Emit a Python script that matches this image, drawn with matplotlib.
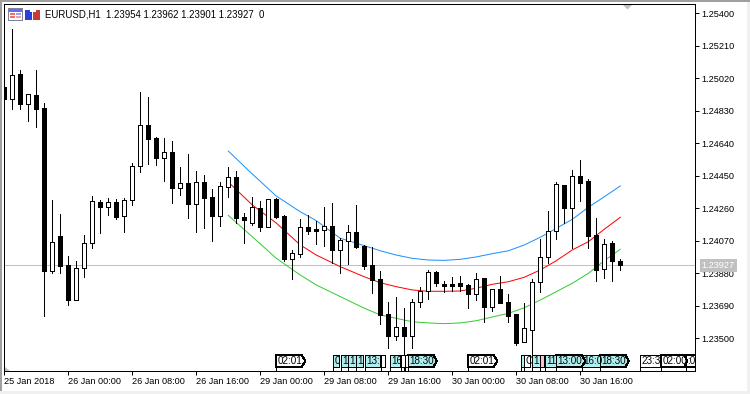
import numpy as np
import matplotlib
matplotlib.use("Agg")
import matplotlib.pyplot as plt
from matplotlib.patches import Polygon, Rectangle

W, H = 750, 394

# prices in points (1e-5)
opens = [124968, 124901, 125045, 124872, 124921, 124845, 123895, 124097, 123927, 123726,
         123913, 124056, 124297, 124266, 124295, 124213, 124307, 124506, 124745, 124669,
         124556, 124588, 124381, 124406, 124287, 124412, 124325, 124213, 124387, 124441,
         124211, 124176, 124260, 124153, 124315, 124215, 123966, 123995, 124149, 124139,
         124135, 124155, 124018, 124071, 124120, 124042, 123927, 123847, 123641, 123515,
         123565, 123515, 123714, 123775, 123886, 123818, 123818, 123822, 123810, 123761,
         123851, 123685, 123787, 123712, 123642, 123477, 123547, 123828, 123977, 124126,
         124395, 124264, 124447, 124420, 124104, 123904, 124057, 123954]
highs = [124970, 125308, 125069, 124927, 125069, 124874, 124309, 124227, 123981, 123952,
         124104, 124332, 124309, 124320, 124313, 124319, 124523, 124938, 124909, 124679,
         124669, 124652, 124500, 124576, 124477, 124453, 124371, 124416, 124500, 124477,
         124231, 124328, 124305, 124313, 124322, 124221, 124016, 124198, 124221, 124186,
         124268, 124291, 124088, 124163, 124280, 124046, 124036, 123894, 123712, 123742,
         123677, 123728, 123798, 123900, 123894, 123835, 123859, 123866, 123818, 123880,
         123851, 123787, 123864, 123759, 123642, 123705, 123845, 124081, 124244, 124412,
         124395, 124484, 124543, 124430, 124204, 124081, 124069, 123962]
lows = [124899, 124843, 124841, 124772, 124737, 123631, 123880, 123880, 123697, 123726,
        123860, 124030, 124118, 124223, 124199, 124123, 124280, 124474, 124517, 124515,
        124422, 124293, 124338, 124205, 124123, 124147, 124071, 124159, 124328, 124176,
        124059, 124163, 124129, 124153, 124205, 123952, 123849, 123976, 124110, 124052,
        124040, 123939, 123884, 123936, 124030, 123907, 123767, 123586, 123445, 123490,
        123315, 123445, 123685, 123730, 123808, 123773, 123775, 123775, 123679, 123724,
        123597, 123662, 123707, 123597, 123463, 123477, 123303, 123771, 123942, 124082,
        124173, 124028, 124303, 124030, 123835, 123855, 123835, 123901]
closes = [124901, 125041, 124872, 124927, 124843, 123895, 124061, 123925, 123726, 123909,
          124056, 124301, 124266, 124295, 124211, 124307, 124506, 124745, 124667, 124556,
          124588, 124381, 124406, 124287, 124412, 124322, 124213, 124389, 124441, 124205,
          124192, 124266, 124153, 124313, 124211, 123964, 123997, 124149, 124129, 124129,
          124155, 124018, 124073, 124120, 124034, 123925, 123841, 123638, 123515, 123565,
          123515, 123714, 123775, 123886, 123825, 123808, 123808, 123808, 123761, 123849,
          123685, 123787, 123707, 123632, 123475, 123559, 123828, 123977, 124126, 124402,
          124264, 124447, 124410, 124098, 123901, 124050, 123954, 123927]

band_bars = [28, 31, 34, 37, 39, 42, 45, 47, 49, 51, 53, 55, 57, 59, 61, 63, 65, 67, 69, 71, 73, 75, 77]
band_upper = [124595, 124461, 124332, 124240, 124188, 124085, 124042, 124012, 123987, 123968, 123958, 123956,
              123962, 123976, 123995, 124012, 124046, 124091, 124143, 124196, 124266, 124328, 124391]
band_mid = [124414, 124280, 124174, 124046, 123987, 123919, 123860, 123825, 123802, 123783, 123775, 123775,
            123777, 123793, 123816, 123831, 123857, 123900, 123954, 124017, 124065, 124138, 124208]
band_lower = [124219, 124094, 123968, 123870, 123812, 123744, 123676, 123637, 123617, 123597, 123590, 123586,
              123590, 123603, 123625, 123646, 123679, 123724, 123773, 123822, 123880, 123954, 124021]

price_ticks = [1.23500, 1.23690, 1.23880, 1.24070, 1.24260, 1.24450, 1.24640, 1.24830, 1.25020, 1.25210, 1.25400]
time_ticks = [0, 8, 16, 24, 32, 40, 48, 56, 64, 72]
time_labels = ["25 Jan 2018", "26 Jan 00:00", "26 Jan 08:00", "26 Jan 16:00", "29 Jan 00:00",
               "29 Jan 08:00", "29 Jan 16:00", "30 Jan 00:00", "30 Jan 08:00", "30 Jan 16:00"]

# event tags along the bottom: first bar, last bar, visible text, fill
tag_start = [34.0, 41.05, 42.1, 43.0, 44.0, 45.05, 47.1, 48.2, 49.55, 50.1, 50.5, 58.0,
             64.55, 65.0, 66.0, 67.0, 67.55, 69.0, 72.25, 74.5, 79.5, 82.05, 85.2]
tag_end = [37.6, 41.8, 42.9, 43.9, 44.8, 47.0, 47.6, 49.5, 50.1, 50.5, 54.05, 61.6,
           64.9, 65.75, 67.0, 67.4, 68.9, 72.6, 74.5, 78.05, 82.0, 85.4, 89.0]
tag_text = ["02:01", "0", "1", "1", "1", "13:", "", "16", "", "", "18:30", "02:01",
            "", "C", "1", "", "11", "13:00", "16:0", "18:30", "23:3", "02:00", ":0"]
tag_fill = ["white", "#AFEEEE", "#AFEEEE", "#AFEEEE", "#AFEEEE", "#AFEEEE", "white", "#AFEEEE", "white", "white",
            "#AFEEEE", "white", "#AFEEEE", "white", "#AFEEEE", "#FFC0CB", "#AFEEEE", "#AFEEEE", "#AFEEEE", "#AFEEEE",
            "white", "white", "white"]

last_price = 1.23927
FONT = "Liberation Sans"
FS = 6.6
PX = 0.72  # one pixel at dpi 100


def px_rect(x, y, w, h, color):
  # rectangle given in picture pixels, y from the top
  return Rectangle((x / W, 1 - (y + h) / H), w / W, h / H, transform=fig.transFigure,
                   facecolor=color, edgecolor="none", zorder=20, clip_on=False)


o, hi, lo, c = [np.array(v) / 1e5 for v in (opens, highs, lows, closes)]
bars = np.arange(len(o))

fig = plt.figure(figsize=(W / 100, H / 100), dpi=100, facecolor="white")
ax = fig.add_axes([4.3 / W, 1 - 371 / H, 691 / W, 367 / H])
ax.set_xlim(0, 86.375)
ax.set_ylim(1.23309, 1.25455)

ax.axhline(last_price, color="#C0C0C0", lw=PX, zorder=1)
ax.plot(band_bars, np.array(band_upper) / 1e5, color="#1E90FF", lw=PX, zorder=2)
ax.plot(band_bars, np.array(band_mid) / 1e5, color="#FF0000", lw=PX, zorder=2)
ax.plot(band_bars, np.array(band_lower) / 1e5, color="#32CD32", lw=PX, zorder=2)

ax.vlines(bars, lo, hi, color="black", lw=PX, zorder=3, antialiased=False)
body_lo = np.minimum(o, c)
body_hi = np.maximum(o, c)
colors = ["white" if cl > op else "black" for op, cl in zip(o, c)]
ax.bar(bars, body_hi - body_lo, bottom=body_lo, width=0.5, color=colors, edgecolor="black",
       lw=PX, zorder=4, antialiased=False)

# tags sit on the bottom axis; earlier tags overlap later ones
trans = ax.get_xaxis_transform()
tag_lo, tag_hi = 4 / 367, 16 / 367
for k, (x0, x1, txt, fill) in enumerate(zip(tag_start, tag_end, tag_text, tag_fill)):
  z = 8 - k * 0.01
  pts = [(x0, tag_lo), (x0, tag_hi), (x1, tag_hi), (x1, tag_lo)]
  if x1 - x0 > 2.5:
    pts = [(x0, tag_lo), (x0, tag_hi), (x1 - 0.4, tag_hi), (x1, (tag_lo + tag_hi) / 2), (x1 - 0.4, tag_lo)]
  poly = Polygon(pts, closed=True, transform=trans, facecolor=fill, edgecolor="black", lw=PX,
                 zorder=z, antialiased=False)
  ax.add_patch(poly)
  ax.plot([x0, x0], [0, tag_lo], transform=trans, color="black", lw=PX, zorder=z, antialiased=False)
  t = ax.text(x0 + 0.18, (tag_lo + tag_hi) / 2, txt, transform=trans, family=FONT, fontsize=FS + 0.5,
              va="center", ha="left", zorder=z)
  t.set_clip_path(poly)

ax.yaxis.tick_right()
ax.set_yticks(price_ticks)
ax.set_yticklabels([f"{p:.5f}" for p in price_ticks], family=FONT, fontsize=FS)
ax.set_xticks(time_ticks)
ax.set_xticklabels(time_labels, family=FONT, fontsize=FS, ha="left")
ax.tick_params(axis="y", length=3, width=PX, pad=1.5, color="black")
ax.tick_params(axis="x", length=3, width=PX, pad=1.5, color="black")
for s in ax.spines.values():
  s.set_linewidth(PX)

# current price tag over the scale
ax.text(1.0 + 23 / 691, last_price, f"{last_price:.5f}", transform=ax.get_yaxis_transform(), family=FONT,
        fontsize=FS, color="white", ha="center", va="center", zorder=30, clip_on=False,
        bbox=dict(boxstyle="square,pad=0.25", facecolor="#C0C0C0", edgecolor="none"))

# header line
fig.text(45.3 / W, 1 - 14.5 / H, "EURUSD,H1  1.23954 1.23962 1.23901 1.23927  0", family=FONT, fontsize=FS + 0.3,
         va="center", ha="left")

# window edges and toolbar icons
for x, y, w, h, col in [
    (0, 0, 750, 2, "#A0A0A0"), (0, 0, 2, 392, "#A0A0A0"), (747, 2, 3, 392, "#F0F0F0"), (0, 391, 750, 3, "#F0F0F0"),
    (8, 8, 15, 13, "#8080A0"), (9, 9, 13, 11, "#FFFFFF"), (9, 9, 13, 3, "#6A6AF0"), (10, 13, 5, 2, "#F07070"),
    (10, 16, 5, 2, "#F07070"), (16, 13, 5, 2, "#A0A0F0"), (16, 16, 5, 2, "#F0A0A0"),
    (25, 10, 7, 10, "#2A3FD8"), (33, 10, 7, 10, "#C83A3A"), (30, 8, 6, 4, "#FFFFFF")]:
  fig.add_artist(px_rect(x, y, w, h, col))

fig.add_artist(Polygon([(623 / W, 1 - 5 / H), (632 / W, 1 - 5 / H), (627.5 / W, 1 - 9.5 / H)],
                       transform=fig.transFigure, facecolor="#C0C0C0", edgecolor="none"))
fig.add_artist(Polygon([(5 / W, 1 - 367 / H), (5 / W, 1 - 370.5 / H), (9.5 / W, 1 - 370.5 / H)],
                       transform=fig.transFigure, facecolor="#C0C0C0", edgecolor="none"))

fig.savefig("out.png", dpi=100)
